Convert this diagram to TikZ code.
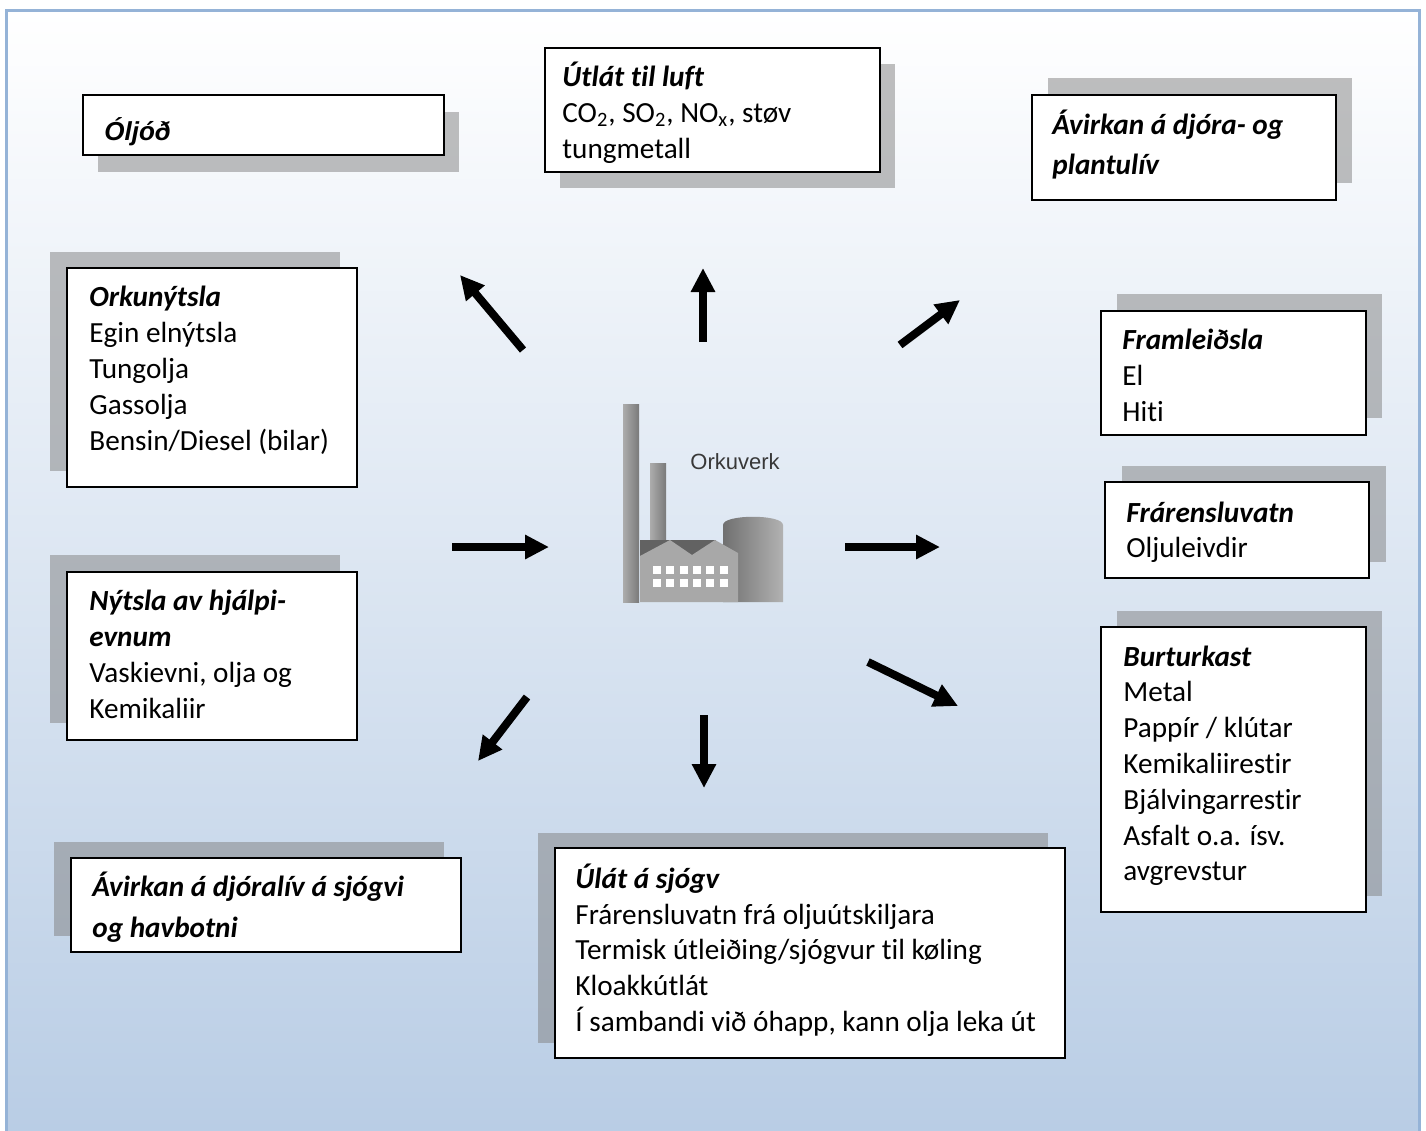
\documentclass[tikz,border=0pt]{standalone}
\usepackage{fontspec}
\setmainfont{Carlito}[Ligatures=CommonOff]
\newfontfamily\arialf{Liberation Sans}
\usetikzlibrary{arrows.meta,fit}
\definecolor{bgblue}{RGB}{185,205,229}
\definecolor{rimblue}{RGB}{149,179,215}
\definecolor{shadowgray}{RGB}{128,128,128}
\definecolor{chimL}{RGB}{172,172,172}
\definecolor{chimR}{RGB}{122,122,122}
\definecolor{tankL}{RGB}{112,112,112}
\definecolor{tankR}{RGB}{178,178,178}
\definecolor{facade}{RGB}{168,168,168}
\definecolor{roofdark}{RGB}{98,98,98}
\newcommand\shbox[7]{%
  \fill[shadowfill] ({#2+#6},{#3+#7}) rectangle ({#4+#6},{#5+#7});
  \node[mainbox, fit={(#2,#3) (#4,#5)}] (#1) {};}
\begin{document}
\begin{tikzpicture}[x=0.5pt,y=-0.5pt,
  shadowfill/.style={fill=shadowgray, fill opacity=0.5},
  mainbox/.style={draw=black, fill=white, line width=1pt, inner sep=0pt},
  txt/.style={inner sep=0pt, anchor=base west, font=\fontsize{14.6}{18}\selectfont},
  ttl/.style={inner sep=0pt, anchor=base west, font=\fontsize{14.6}{18}\selectfont\bfseries\itshape},
  bigarrow/.style={line width=4pt, -{Triangle[width=11.5pt,length=12pt]}},
]
\useasboundingbox (0,0) rectangle (1426,1131);
\fill[white] (0,0) rectangle (1426,1131);
\shade[top color=white, bottom color=bgblue] (6,10) rectangle (1419,1131);
\draw[rimblue, line width=1.5pt] (6,1131) -- (6,10) -- (1419,10) -- (1419,1131);

% ---------- boxes ----------
\shbox{olj}{83}{95}{444}{155}{15}{17}
\node[inner sep=0pt, anchor=base west, font=\arialf\fontsize{13}{15}\selectfont\bfseries\itshape] (olj-1) at (104,140) {Óljóð};

\shbox{utl}{545}{48}{880}{172}{15}{16}
\node[ttl] (utl-1) at (562,86) {Útlát til luft};
\node[txt] (utl-2) at (562,122) {CO\textsubscript{2}, SO\textsubscript{2}, NO\textsubscript{x}, støv};
\node[txt] (utl-3) at (562,158) {tungmetall};

\shbox{avd}{1032}{95}{1336}{200}{16}{-17}
\node[ttl] (avd-1) at (1052,134) {Ávirkan á djóra- og};
\node[ttl] (avd-2) at (1052,174) {plantulív};

\shbox{okn}{67}{268}{357}{487}{-17}{-16}
\node[ttl] (okn-1) at (89,306) {Orkunýtsla};
\foreach \t [count=\i from 2] in {Egin elnýtsla, Tungolja, Gassolja, Bensin/Diesel (bilar)}
  \node[txt] (okn-\i) at (89,{306+36*(\i-1)}) {\t};

\shbox{nyt}{67}{572}{357}{740}{-17}{-17}
\node[ttl] (nyt-1) at (89,610) {Nýtsla av hjálpi-};
\node[ttl] (nyt-2) at (89,646) {evnum};
\node[txt] (nyt-3) at (89,682) {Vaskievni, olja og};
\node[txt] (nyt-4) at (89,718) {Kemikaliir};

\shbox{avs}{71}{858}{461}{952}{-17}{-16}
\node[ttl] (avs-1) at (92,896) {Ávirkan á djóralív á sjógvi};
\node[ttl] (avs-2) at (92,937) {og havbotni};

\shbox{sjo}{555}{848}{1065}{1058}{-17}{-15}
\node[ttl] (sjo-1) at (575,888) {Úlát á sjógv};
\node[txt] (sjo-2) at (575,924) {Frárensluvatn frá oljuútskiljara};
\node[txt] (sjo-3) at (575,959) {Termisk útleiðing/sjógvur til køling};
\node[txt] (sjo-4) at (575,995) {Kloakkútlát};
\node[txt] (sjo-5) at (575,1031) {Í sambandi við óhapp, kann olja leka út};

\shbox{fra}{1101}{311}{1366}{435}{16}{-17}
\node[ttl] (fra-1) at (1122,349) {Framleiðsla};
\node[txt] (fra-2) at (1122,385) {El};
\node[txt] (fra-3) at (1122,421) {Hiti};

\shbox{frv}{1105}{482}{1369}{578}{17}{-16}
\node[ttl] (frv-1) at (1126,522) {Frárensluvatn};
\node[txt] (frv-2) at (1126,557) {Oljuleivdir};

\shbox{bur}{1101}{627}{1366}{912}{16}{-16}
\node[ttl] (bur-1) at (1123,666) {Burturkast};
\foreach \t [count=\i from 2] in {Metal, Pappír / klútar, Kemikaliirestir, Bjálvingarrestir, Asfalt o.a. ísv., avgrevstur}
  \node[txt] (bur-\i) at (1123,{666+35.8*(\i-1)}) {\t};

% ---------- factory ----------
\shade[left color=chimL, right color=chimR] (623,404) rectangle (639,602);
\shade[left color=chimL, right color=chimR] (650,463) rectangle (666,548);
\shade[left color=tankL, right color=tankR] (723,602) -- (723,525) .. controls (723,514) and (783,514) .. (783,525) -- (783,602) -- cycle;
\fill[roofdark] (640,540) rectangle (716,557);
\fill[facade] (640,602) -- (640,556) -- (670,540) -- (692,555) -- (715,540) -- (738,553) -- (738,602) -- cycle;
\foreach \k in {0,...,5}
  \foreach \r in {566,579}
    \fill[white] ({653+13.3*\k},\r) rectangle ++(8,8);
\node[inner sep=0pt, anchor=base west, font=\arialf\fontsize{11}{13}\selectfont, text=black!78] (lbl) at (690,469) {Orkuverk};

% ---------- arrows ----------
\coordinate (nw-s) at (523,350); \coordinate (nw-e) at (460,275);
\coordinate (up-s) at (703,342); \coordinate (up-e) at (703,268);
\coordinate (ne-s) at (900,345); \coordinate (ne-e) at (960,300);
\coordinate (in-s) at (452,547); \coordinate (in-e) at (549,547);
\coordinate (ou-s) at (845,547); \coordinate (ou-e) at (940,547);
\coordinate (sw-s) at (527,697); \coordinate (sw-e) at (478,761);
\coordinate (dn-s) at (704,715); \coordinate (dn-e) at (704,788);
\coordinate (se-s) at (868,662); \coordinate (se-e) at (958,706);
\foreach \a in {nw,up,ne,in,ou,sw,dn,se}
  \draw[bigarrow] (\a-s) -- (\a-e);
\end{tikzpicture}
\end{document}
